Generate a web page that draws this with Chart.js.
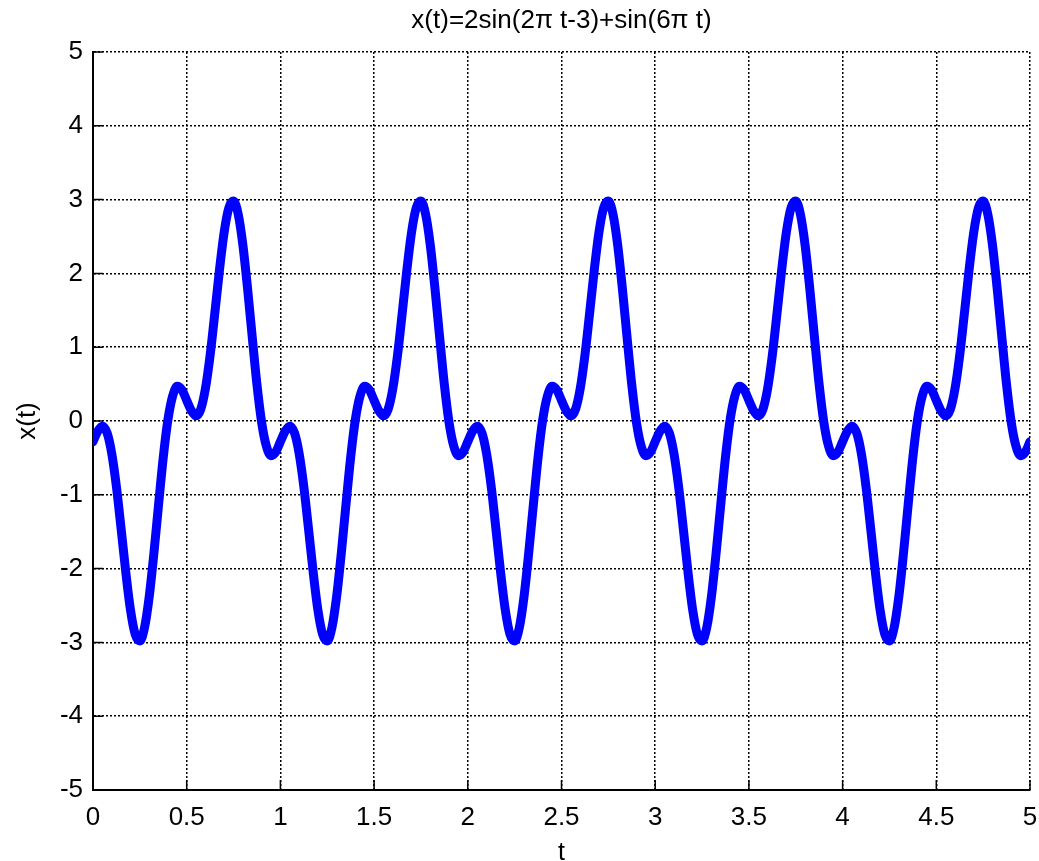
<!DOCTYPE html>
<html>
<head>
<meta charset="utf-8">
<script src="https://cdn.jsdelivr.net/npm/chart.js@4/dist/chart.umd.min.js"></script>
<style>
    html, body { margin: 0; padding: 0; background: #fff; }
    #chart { display: block; }
</style>
</head>
<body>
<canvas id="chart" width="1039" height="861"></canvas>
<script>
// Temps (s), un échantillon tous les 0.025 s
const tValues = [
    0, 0.025, 0.05, 0.075, 0.1, 0.125, 0.15, 0.175, 0.2, 0.225, 0.25, 0.275, 0.3, 0.325, 0.35, 0.375, 0.4, 0.425, 0.45, 0.475,
    0.5, 0.525, 0.55, 0.575, 0.6, 0.625, 0.65, 0.675, 0.7, 0.725, 0.75, 0.775, 0.8, 0.825, 0.85, 0.875, 0.9, 0.925, 0.95, 0.975,
    1, 1.025, 1.05, 1.075, 1.1, 1.125, 1.15, 1.175, 1.2, 1.225, 1.25, 1.275, 1.3, 1.325, 1.35, 1.375, 1.4, 1.425, 1.45, 1.475,
    1.5, 1.525, 1.55, 1.575, 1.6, 1.625, 1.65, 1.675, 1.7, 1.725, 1.75, 1.775, 1.8, 1.825, 1.85, 1.875, 1.9, 1.925, 1.95, 1.975,
    2, 2.025, 2.05, 2.075, 2.1, 2.125, 2.15, 2.175, 2.2, 2.225, 2.25, 2.275, 2.3, 2.325, 2.35, 2.375, 2.4, 2.425, 2.45, 2.475,
    2.5, 2.525, 2.55, 2.575, 2.6, 2.625, 2.65, 2.675, 2.7, 2.725, 2.75, 2.775, 2.8, 2.825, 2.85, 2.875, 2.9, 2.925, 2.95, 2.975,
    3, 3.025, 3.05, 3.075, 3.1, 3.125, 3.15, 3.175, 3.2, 3.225, 3.25, 3.275, 3.3, 3.325, 3.35, 3.375, 3.4, 3.425, 3.45, 3.475,
    3.5, 3.525, 3.55, 3.575, 3.6, 3.625, 3.65, 3.675, 3.7, 3.725, 3.75, 3.775, 3.8, 3.825, 3.85, 3.875, 3.9, 3.925, 3.95, 3.975,
    4, 4.025, 4.05, 4.075, 4.1, 4.125, 4.15, 4.175, 4.2, 4.225, 4.25, 4.275, 4.3, 4.325, 4.35, 4.375, 4.4, 4.425, 4.45, 4.475,
    4.5, 4.525, 4.55, 4.575, 4.6, 4.625, 4.65, 4.675, 4.7, 4.725, 4.75, 4.775, 4.8, 4.825, 4.85, 4.875, 4.9, 4.925, 4.95, 4.975,
    5
];

// x(t)
const xValues = [
    -0.28, -0.14, -0.07, -0.16, -0.44, -0.89, -1.46, -2.05, -2.56, -2.89, -2.98, -2.80, -2.38, -1.79, -1.13, -0.49, 0.02, 0.34, 0.47, 0.42,
    0.28, 0.14, 0.07, 0.16, 0.44, 0.89, 1.46, 2.05, 2.56, 2.89, 2.98, 2.80, 2.38, 1.79, 1.13, 0.49, -0.02, -0.34, -0.47, -0.42,
    -0.28, -0.14, -0.07, -0.16, -0.44, -0.89, -1.46, -2.05, -2.56, -2.89, -2.98, -2.80, -2.38, -1.79, -1.13, -0.49, 0.02, 0.34, 0.47, 0.42,
    0.28, 0.14, 0.07, 0.16, 0.44, 0.89, 1.46, 2.05, 2.56, 2.89, 2.98, 2.80, 2.38, 1.79, 1.13, 0.49, -0.02, -0.34, -0.47, -0.42,
    -0.28, -0.14, -0.07, -0.16, -0.44, -0.89, -1.46, -2.05, -2.56, -2.89, -2.98, -2.80, -2.38, -1.79, -1.13, -0.49, 0.02, 0.34, 0.47, 0.42,
    0.28, 0.14, 0.07, 0.16, 0.44, 0.89, 1.46, 2.05, 2.56, 2.89, 2.98, 2.80, 2.38, 1.79, 1.13, 0.49, -0.02, -0.34, -0.47, -0.42,
    -0.28, -0.14, -0.07, -0.16, -0.44, -0.89, -1.46, -2.05, -2.56, -2.89, -2.98, -2.80, -2.38, -1.79, -1.13, -0.49, 0.02, 0.34, 0.47, 0.42,
    0.28, 0.14, 0.07, 0.16, 0.44, 0.89, 1.46, 2.05, 2.56, 2.89, 2.98, 2.80, 2.38, 1.79, 1.13, 0.49, -0.02, -0.34, -0.47, -0.42,
    -0.28, -0.14, -0.07, -0.16, -0.44, -0.89, -1.46, -2.05, -2.56, -2.89, -2.98, -2.80, -2.38, -1.79, -1.13, -0.49, 0.02, 0.34, 0.47, 0.42,
    0.28, 0.14, 0.07, 0.16, 0.44, 0.89, 1.46, 2.05, 2.56, 2.89, 2.98, 2.80, 2.38, 1.79, 1.13, 0.49, -0.02, -0.34, -0.47, -0.42,
    -0.28
];

// Graduations des axes
const xTicks = [0, 0.5, 1, 1.5, 2, 2.5, 3, 3.5, 4, 4.5, 5];
const yTicks = [-5, -4, -3, -2, -1, 0, 1, 2, 3, 4, 5];

const FONT = "'Liberation Sans', Arial, sans-serif";

// Petits traits de graduation vers l'intérieur (style MATLAB)
const innerTicks = {
    id: 'innerTicks',
    afterDatasetsDraw(chart) {
        const ctx = chart.ctx;
        const area = chart.chartArea;
        const len = 10;
        ctx.save();
        ctx.strokeStyle = '#000';
        ctx.lineWidth = 1.5;
        ctx.beginPath();
        chart.scales.x.ticks.forEach(t => {
            const px = chart.scales.x.getPixelForValue(t.value);
            ctx.moveTo(px, area.bottom);
            ctx.lineTo(px, area.bottom - len);
        });
        chart.scales.y.ticks.forEach(t => {
            const py = chart.scales.y.getPixelForValue(t.value);
            ctx.moveTo(area.left, py);
            ctx.lineTo(area.left + len, py);
        });
        ctx.stroke();
        ctx.restore();
    }
};

new Chart(document.getElementById('chart'), {
    type: 'line',
    data: {
        datasets: [{
            data: tValues.map((t, i) => ({ x: t, y: xValues[i] })),
            borderColor: '#0000ff',
            borderWidth: 9,
            pointRadius: 0,
            cubicInterpolationMode: 'monotone',
            borderJoinStyle: 'round',
            borderCapStyle: 'round',
            clip: 0,
        }],
    },
    options: {
        responsive: false,
        devicePixelRatio: 1,
        animation: false,
        layout: { padding: { left: 0, right: 9, top: 0, bottom: 0 } },
        plugins: {
            legend: { display: false },
            tooltip: { enabled: false },
            title: {
                display: true,
                fullSize: false, // centré sur la zone du graphique
                text: 'x(t)=2sin(2π t-3)+sin(6π t)',
                color: '#000',
                font: { family: FONT, size: 26, weight: 'normal', lineHeight: 1.2 },
                padding: { top: 5, bottom: 15.8 },
            },
        },
        scales: {
            x: {
                type: 'linear',
                min: 0,
                max: 5,
                afterBuildTicks: axis => { axis.ticks = xTicks.map(v => ({ value: v })); },
                afterFit: axis => {
                    axis.height = 71;
                    axis.paddingLeft = 0;
                    axis.paddingRight = 0;
                },
                ticks: {
                    color: '#000',
                    font: { family: FONT, size: 26 },
                    padding: 12,
                    maxRotation: 0,
                    autoSkip: false,
                    callback: v => String(v),
                },
                grid: { color: '#000', lineWidth: 1.5, drawTicks: false },
                border: { display: true, color: '#000', width: 2, dash: [2, 2] },
                title: {
                    display: true,
                    text: 't',
                    color: '#000',
                    font: { family: FONT, size: 25, lineHeight: 0.8 },
                    padding: { top: 0, bottom: -2 },
                },
            },
            y: {
                type: 'linear',
                min: -5,
                max: 5,
                afterBuildTicks: axis => { axis.ticks = yTicks.map(v => ({ value: v })); },
                afterFit: axis => { axis.width = 93; },
                ticks: {
                    color: '#000',
                    font: { family: FONT, size: 26 },
                    padding: 10,
                    autoSkip: false,
                },
                grid: { color: '#000', lineWidth: 1.5, drawTicks: false },
                border: { display: true, color: '#000', width: 2, dash: [2, 2] },
                title: {
                    display: true,
                    text: 'x(t)',
                    color: '#000',
                    font: { family: FONT, size: 26, lineHeight: 1 },
                    padding: { top: 15, bottom: 0 },
                },
            },
        },
    },
    plugins: [innerTicks],
});
</script>
</body>
</html>
